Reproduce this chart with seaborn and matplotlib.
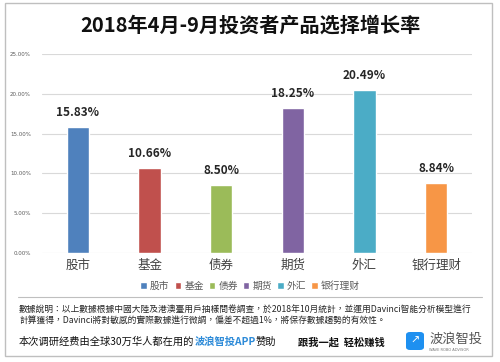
import numpy as np
import pandas as pd
import seaborn as sns
import matplotlib.pyplot as plt
from matplotlib.patches import Rectangle, FancyBboxPatch
from matplotlib.lines import Line2D

# chart data
categories = ['股市', '基金', '债券', '期货', '外汇', '银行理财']
growth = [15.83, 10.66, 8.50, 18.25, 20.49, 8.84]
colors = ['#4F81BD', '#C0504D', '#9BBB59', '#8064A2', '#4BACC6', '#F79646']
y_ticks = [0, 5, 10, 15, 20, 25]

title = '2018年4月-9月投资者产品选择增长率'
note_lines = ['數據說明：以上數據根據中國大陸及港澳臺用戶抽樣問卷調查，於2018年10月統計，並運用Davinci智能分析模型進行',
              '計算獲得，Davinci將對敏感的實際數據進行微調，偏差不超過1%，將保存數據趨勢的有效性。']

sns.set_style('white')
plt.rcParams['font.family'] = ['Noto Sans CJK SC', 'DejaVu Sans']

df = pd.DataFrame({'cat': categories, 'val': growth})

fig = plt.figure(figsize=(5, 3.62), dpi=100)
W, H = 500, 362

def fx(x):
    return x / W

def fy(y):
    return 1 - y / H

ax = fig.add_axes([fx(42), fy(253), fx(472) - fx(42), fy(54) - fy(253)])
sns.barplot(data=df, x='cat', y='val', hue='cat', palette=colors, width=0.31,
            ax=ax, legend=True, saturation=1)

ax.set_ylim(0, 25)
ax.set_yticks(y_ticks)
ax.set_yticklabels([f'{t:.2f}%' for t in y_ticks], fontsize=4, color='#595959',
                   family=['DejaVu Sans'])
ax.grid(axis='y', color='#D9D9D9', linewidth=0.8)
ax.set_axisbelow(True)
for s in ax.spines.values():
    s.set_visible(False)
ax.tick_params(axis='both', length=0)
ax.tick_params(axis='y', pad=8)
ax.tick_params(axis='x', pad=4)
ax.set_xlabel('')
ax.set_ylabel('')
for lab in ax.get_xticklabels():
    lab.set_fontsize(9)
    lab.set_color('#404040')

for i, v in enumerate(growth):
    ax.text(i, v + 1.0, f'{v:.2f}%', ha='center', va='bottom', fontsize=8.5,
            fontweight='bold', color='#262626')

handles, labels = ax.get_legend_handles_labels()
ax.get_legend().remove()
fig.legend(handles, labels, loc='center', bbox_to_anchor=(0.5, fy(286)), ncol=6,
           frameon=False, fontsize=7, handlelength=0.7, handleheight=0.7,
           handletextpad=0.3, columnspacing=0.5, labelcolor='#595959')

fig.text(0.5, fy(25), title, ha='center', va='center', fontsize=14.5,
         fontweight='bold', color='#111111')

# frame and separator
fig.add_artist(Rectangle((fx(5), fy(356)), fx(492) - fx(5), fy(3) - fy(356),
                         transform=fig.transFigure, fill=False, edgecolor='#BFBFBF',
                         linewidth=1))
fig.add_artist(Line2D([fx(18), fx(482)], [fy(297), fy(297)], transform=fig.transFigure,
                      color='#BFBFBF', linewidth=0.8))

for k, line in enumerate(note_lines):
    fig.text(fx(19), fy(310 + 11.5 * k), line, ha='left', va='center', fontsize=6.3,
             color='#262626', family=['Noto Sans CJK TC', 'DejaVu Sans'])

# sponsor line
renderer = fig.canvas.get_renderer()
x0 = fx(19)
parts = [('本次调研经费由全球30万华人都在用的', '#111111', 'normal'),
         ('波浪智投APP', '#2E8BD8', 'bold'),
         ('赞助', '#111111', 'normal')]
for txt, col, wt in parts:
    t = fig.text(x0, fy(342), txt, ha='left', va='center', fontsize=7.4, color=col,
                 fontweight=wt)
    bb = t.get_window_extent(renderer)
    x0 = bb.x1 / fig.bbox.width

fig.text(fx(298), fy(342), '跟我一起  轻松赚钱', ha='left', va='center', fontsize=7.4,
         fontweight='bold', color='#111111')

# logo
fig.add_artist(FancyBboxPatch((fx(406), fy(350)), fx(18), fy(332) - fy(350),
                              boxstyle='round,pad=0,rounding_size=0.008',
                              transform=fig.transFigure, facecolor='#1E90F0',
                              edgecolor='none'))
fig.text(fx(415), fy(341), '↗', ha='center', va='center', fontsize=8, color='white',
         family=['DejaVu Sans'])
fig.text(fx(429), fy(339), '波浪智投', ha='left', va='center', fontsize=9.5,
         color='#555555')
fig.text(fx(429), fy(350), 'WAVE ROBO ADVISOR', ha='left', va='center', fontsize=2.6,
         color='#777777', family=['DejaVu Sans'])

fig.savefig('out.png', dpi=100)
